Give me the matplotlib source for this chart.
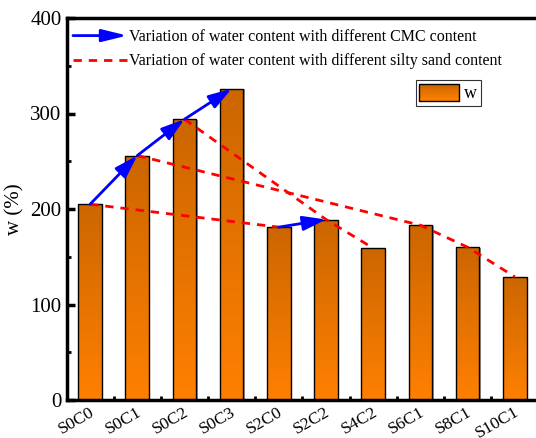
import numpy as np
import matplotlib
matplotlib.use("Agg")
import matplotlib.pyplot as plt
import matplotlib.transforms as mtransforms
from matplotlib.colors import LinearSegmentedColormap
from matplotlib.lines import Line2D
from matplotlib.patches import Rectangle, FancyArrowPatch
from matplotlib.legend_handler import HandlerBase, HandlerPatch

samples = ["S0C0", "S0C1", "S0C2", "S0C3", "S2C0", "S2C2", "S4C2", "S6C1", "S8C1", "S10C1"]
w = [205, 256, 294, 326, 181, 189, 159, 183, 160, 129]

# arrows: change of CMC content
cmc_paths = [["S0C0", "S0C1"], ["S0C1", "S0C2"], ["S0C2", "S0C3"], ["S2C0", "S2C2"]]
# dashed: change of silty sand content
sand_paths = [["S0C0", "S2C0"], ["S0C1", "S6C1", "S8C1", "S10C1"], ["S0C2", "S2C2", "S4C2"]]

plt.rcParams["font.family"] = ["Liberation Serif", "DejaVu Serif"]

fig = plt.figure(figsize=(5.36, 4.38), dpi=100)
ax = fig.add_axes([66.5 / 536, 38 / 438, 1 - 66.5 / 536, 382 / 438])

x = np.arange(len(samples))
bars = ax.bar(x, w, width=0.5, color="none", edgecolor="black", linewidth=1.0, zorder=3)

cmap = LinearSegmentedColormap.from_list("og", ["#FF8000", "#CC6600"])
grad = np.linspace(0, 1, 256).reshape(-1, 1)
for b in bars:
    bx, by = b.get_x(), b.get_y()
    bw, bh = b.get_width(), b.get_height()
    # light grey shadow on the right
    ax.add_patch(Rectangle((bx + 0.03, by), bw, bh - 0.8, facecolor="#999999",
                           edgecolor="none", zorder=2))
    im = ax.imshow(grad, extent=[bx, bx + bw, by, by + bh], origin="lower",
                   cmap=cmap, aspect="auto", zorder=2.5)
    im.set_clip_path(b)

pos = dict(zip(samples, zip(x, w)))

for path in sand_paths:
    xs = [pos[s][0] for s in path]
    ys = [pos[s][1] for s in path]
    ax.plot(xs, ys, color="red", linestyle=(0, (3, 2.5)), linewidth=2, zorder=4)

for a, b in cmc_paths:
    arr = FancyArrowPatch(pos[a], pos[b], arrowstyle="-|>,head_length=0.7,head_width=0.22",
                          mutation_scale=20, color="blue", linewidth=2,
                          shrinkA=0, shrinkB=0, zorder=5)
    ax.add_patch(arr)

ax.set_xlim(-0.5, 9.45)
ax.set_ylim(0, 400)
ax.set_xticks(x)
ax.set_xticks(x[:-1] + 0.5, minor=True)
ax.set_xticklabels([])
# rotated sample names: right end just past the tick, like the original
lab_tr = ax.get_xaxis_transform() + mtransforms.ScaledTranslation(0.07, -0.04, fig.dpi_scale_trans)
for xi, s in zip(x, samples):
    ax.text(xi, 0, s, transform=lab_tr, rotation=30, fontsize=12.5,
            ha="right", va="top", clip_on=False)
ax.set_yticks([0, 100, 200, 300, 400])
ax.set_yticks([50, 150, 250, 350], minor=True)
ax.tick_params(axis="y", which="major", direction="in", length=6, width=2.5, labelsize=15)
ax.tick_params(axis="y", which="minor", direction="in", length=3, width=2)
ax.tick_params(axis="x", which="major", direction="in", length=5, width=2)
ax.tick_params(axis="x", which="minor", direction="in", length=3, width=2)
ax.set_ylabel("w (%)", fontsize=15, labelpad=4)

for side in ["left", "bottom", "top"]:
    ax.spines[side].set_linewidth(2.5)
ax.spines["right"].set_visible(False)


class HandlerArrow(HandlerBase):
    def create_artists(self, legend, orig_handle, xdescent, ydescent, width, height, fontsize, trans):
        y = height / 2 - ydescent
        a = FancyArrowPatch((-xdescent, y), (width - xdescent, y),
                            arrowstyle="-|>,head_length=0.9,head_width=0.22",
                            mutation_scale=17, color="blue", linewidth=2,
                            shrinkA=0, shrinkB=0, transform=trans)
        return [a]


class HandlerGrad(HandlerPatch):
    def create_artists(self, legend, orig_handle, xdescent, ydescent, width, height, fontsize, trans):
        n = 12
        arts = []
        for i in range(n):
            r = Rectangle((-xdescent, -ydescent + height * i / n), width, height / n,
                          facecolor=cmap(i / (n - 1)), edgecolor="none", transform=trans)
            arts.append(r)
        arts.append(Rectangle((-xdescent, -ydescent), width, height, facecolor="none",
                              edgecolor="black", linewidth=1, transform=trans))
        return arts


arrow_h = Line2D([], [], color="blue")
dash_h = Line2D([], [], color="red", linestyle=(0, (3, 2.5)), linewidth=2)
leg1 = ax.legend([arrow_h, dash_h],
                 ["Variation of water content with different CMC content",
                  "Variation of water content with different silty sand content"],
                 handler_map={arrow_h: HandlerArrow()}, loc="upper left",
                 bbox_to_anchor=(-0.01, 1.0), frameon=False, fontsize=11.5,
                 handlelength=3.4, handletextpad=0.1, labelspacing=0.5, borderaxespad=0.3)
ax.add_artist(leg1)

w_h = Rectangle((0, 0), 1, 1)
leg2 = ax.legend([w_h], ["w"], handler_map={w_h: HandlerGrad()}, loc="upper left",
                 bbox_to_anchor=(349 / 469.5, 1 - 62 / 382), fontsize=13, frameon=True,
                 fancybox=False, edgecolor="black", handlelength=2.2, handleheight=1.1,
                 handletextpad=0.3, borderpad=0.2, borderaxespad=0)
leg2.get_frame().set_linewidth(0.8)

fig.savefig("out.png", dpi=100)
